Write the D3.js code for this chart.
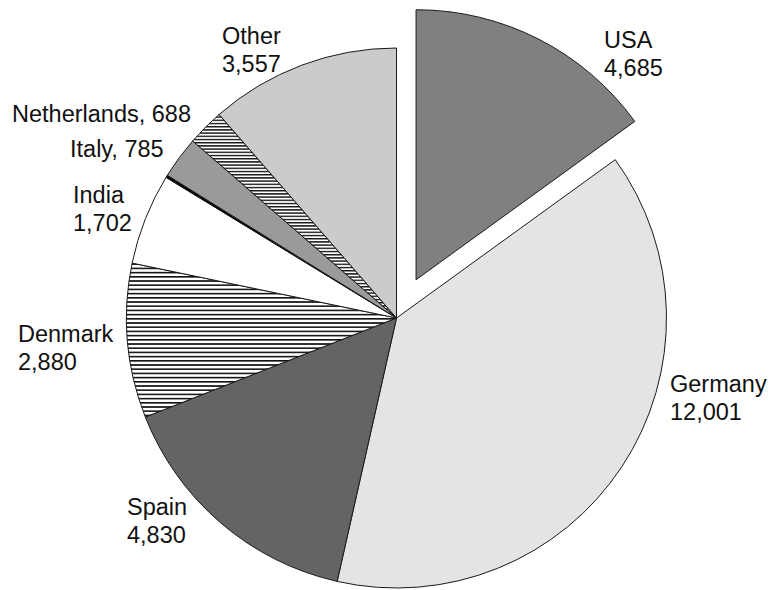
<!DOCTYPE html>
<html>
<head>
<meta charset="utf-8">
<script src="https://cdn.jsdelivr.net/npm/d3@7"></script>
<style>
  body { margin: 0; background: #fff; }
  text { font-family: "Liberation Sans", Arial, Helvetica, sans-serif; }
</style>
</head>
<body>
<svg id="chart" width="771" height="590"></svg>
<script>
// Installed capacity by country (MW)
const countries = ["USA", "Germany", "Spain", "Denmark", "India", "", "Italy", "Netherlands", "Other"];
const capacity  = [4685, 12001, 4830, 2880, 1702, 45, 785, 688, 3557];
const fills     = ["#808080", "#e4e4e4", "#646464", "url(#hatchWide)", "#ffffff", "#000000", "#9a9a9a", "url(#hatchFine)", "#cbcbcb"];
// "stacked": name over value; "inline": "name, value" on one line
const labelKind = ["stacked", "stacked", "stacked", "stacked", "stacked", null, "inline", "inline", "stacked"];
const exploded  = ["USA"];

// Label anchors (left edge, first baseline)
const labelAt = {
  "USA":         [604, 48],
  "Germany":     [670, 392],
  "Spain":       [127, 515],
  "Denmark":     [18, 342],
  "India":       [73, 203],
  "Italy":       [70, 157],
  "Netherlands": [12, 122],
  "Other":       [222, 44]
};

const cx = 396.5, cy = 318, radius = 270, explodeBy = 43, lineGap = 28;
const fmt = d3.format(",");

const svg = d3.select("#chart");
const defs = svg.append("defs");

function hatch(id, period, thick) {
  const p = defs.append("pattern")
    .attr("id", id)
    .attr("patternUnits", "userSpaceOnUse")
    .attr("width", 8).attr("height", period);
  p.append("rect").attr("width", 8).attr("height", period).attr("fill", "#fff");
  p.append("rect").attr("y", 0).attr("width", 8).attr("height", thick).attr("fill", "#111");
}
hatch("hatchWide", 4.2, 1.6);
hatch("hatchFine", 3.2, 1.4);

const data = countries.map((c, i) => ({ country: c, value: capacity[i], fill: fills[i], kind: labelKind[i] }));

const pie = d3.pie().sort(null).value(d => d.value).startAngle(0).endAngle(2 * Math.PI);
const arc = d3.arc().innerRadius(0).outerRadius(radius);

const g = svg.append("g").attr("transform", `translate(${cx},${cy})`);

g.selectAll("path.slice")
  .data(pie(data))
  .join("path")
  .attr("class", "slice")
  .attr("d", arc)
  .attr("fill", d => d.data.fill)
  .attr("stroke", "#1a1a1a")
  .attr("stroke-width", 1)
  .attr("stroke-linejoin", "round")
  .attr("transform", d => {
    if (!exploded.includes(d.data.country)) return null;
    const a = (d.startAngle + d.endAngle) / 2;
    return `translate(${Math.sin(a) * explodeBy},${-Math.cos(a) * explodeBy})`;
  });

const labels = svg.append("g")
  .attr("font-size", 23.5)
  .attr("fill", "#111");

data.filter(d => d.kind).forEach(d => {
  const [x, y] = labelAt[d.country];
  const t = labels.append("text").attr("x", x).attr("y", y);
  if (d.kind === "inline") {
    t.text(`${d.country}, ${fmt(d.value)}`);
  } else {
    t.append("tspan").attr("x", x).attr("y", y).text(d.country);
    t.append("tspan").attr("x", x).attr("y", y + lineGap).text(fmt(d.value));
  }
});
</script>
</body>
</html>
